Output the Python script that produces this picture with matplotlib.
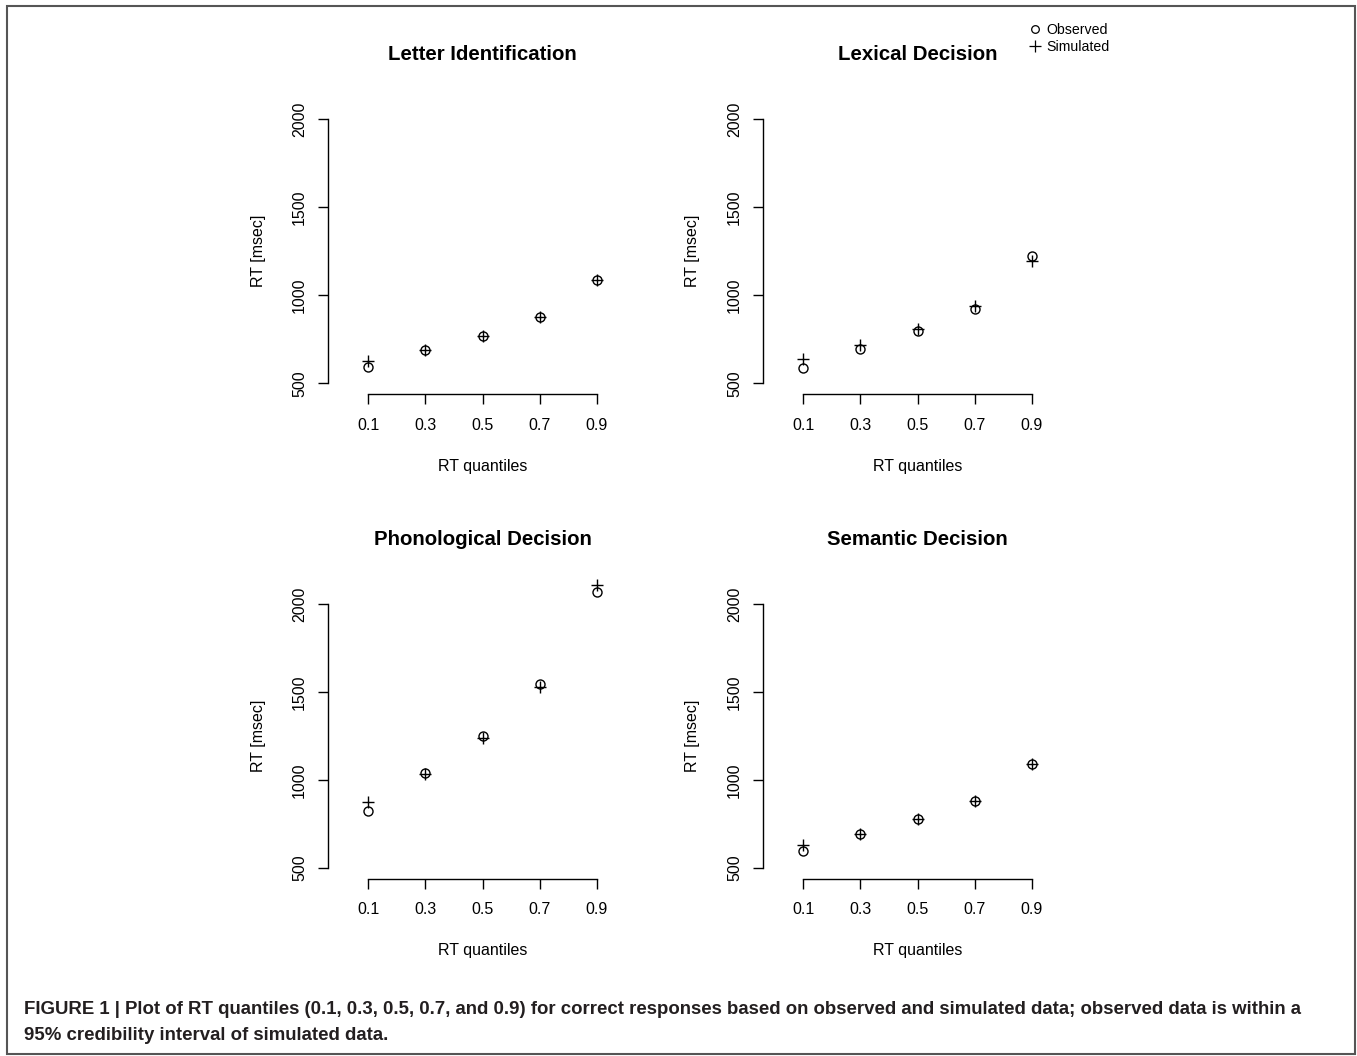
import matplotlib
matplotlib.use("Agg")
import matplotlib.pyplot as plt
from matplotlib.lines import Line2D
from matplotlib.patches import Rectangle

plt.rcParams['font.family'] = ['Liberation Sans', 'DejaVu Sans']

quantiles = [0.1, 0.3, 0.5, 0.7, 0.9]
tick_labels_x = ["0.1", "0.3", "0.5", "0.7", "0.9"]
yticks = [500, 1000, 1500, 2000]

titles = ["Letter Identification", "Lexical Decision",
          "Phonological Decision", "Semantic Decision"]

observed_letter = [591, 690, 769, 875, 1087]
simulated_letter = [627, 691, 769, 875, 1088]
observed_lexical = [589, 697, 795, 924, 1221]
simulated_lexical = [640, 716, 808, 937, 1195]
observed_phono = [825, 1038, 1252, 1543, 2068]
simulated_phono = [873, 1036, 1238, 1526, 2108]
observed_sem = [597, 693, 776, 879, 1092]
simulated_sem = [631, 693, 776, 880, 1092]

observed = [observed_letter, observed_lexical, observed_phono, observed_sem]
simulated = [simulated_letter, simulated_lexical, simulated_phono, simulated_sem]

W, H = 1357, 1056
fig = plt.figure(figsize=(W / 100, H / 100), dpi=100)

# axes placement (pixels: left, top-of-plot-region)
lefts = [328, 763, 328, 763]
tops = [108.7, 108.7, 593.4, 593.4]
aw, ah = 309, 285.2

fs_tick = 11.5
for i in range(4):
    l = lefts[i] / W
    b = 1 - (tops[i] + ah) / H
    ax = fig.add_axes([l, b, aw / W, ah / H])
    ax.plot(quantiles, observed[i], linestyle='none', marker='o', ms=6.5,
            mfc='none', mec='black', mew=1.0, clip_on=False)
    ax.plot(quantiles, simulated[i], linestyle='none', marker='+', ms=9,
            mec='black', mew=1.0, clip_on=False)
    ax.set_xlim(-0.04, 1.04)
    ax.set_ylim(440, 2060)
    for s in ['top', 'right']:
        ax.spines[s].set_visible(False)
    ax.spines['left'].set_bounds(500, 2000)
    ax.spines['bottom'].set_bounds(0.1, 0.9)
    ax.spines['left'].set_linewidth(1.0)
    ax.spines['bottom'].set_linewidth(1.0)
    ax.set_xticks(quantiles)
    ax.set_xticklabels(tick_labels_x)
    ax.set_yticks(yticks)
    ax.set_yticklabels([str(v) for v in yticks], rotation=90, va='center')
    ax.tick_params(direction='out', length=7, width=1.0, labelsize=fs_tick,
                   pad=8, colors='black')
    ax.tick_params(axis='x', pad=10)
    ax.set_xlabel("RT quantiles", fontsize=fs_tick)
    ax.xaxis.label.set_va('center')
    ax.xaxis.set_label_coords(0.5, -(466 - 393.9) / ah)
    ax.set_ylabel("RT [msec]", fontsize=fs_tick)
    ax.yaxis.label.set_va('center')
    ax.yaxis.set_label_coords(-(328 - 258) / aw, 0.5)
    ax.text(0.5, 1 + (108.7 - 55) / ah, titles[i], transform=ax.transAxes,
            ha='center', va='center', fontsize=14.7, fontweight='bold')

# legend
handles = [Line2D([], [], linestyle='none', marker='o', ms=5.5, mfc='none',
                  mec='black', mew=0.9),
           Line2D([], [], linestyle='none', marker='+', ms=8, mec='black',
                  mew=0.9)]
fig.legend(handles, ["Observed", "Simulated"], loc='upper left',
           bbox_to_anchor=(1029 / W, 1 - 23 / H), frameon=False,
           fontsize=10.2, handlelength=0.8, handletextpad=0.45,
           labelspacing=0.2, borderpad=0.0, borderaxespad=0.0)

# border
fig.add_artist(Rectangle((7 / W, 1 - 1054 / H), (1355 - 7) / W, (1054 - 6) / H,
                         transform=fig.transFigure, fill=False,
                         edgecolor='#555555', linewidth=1.5))

cap1 = ("FIGURE 1 | Plot of RT quantiles (0.1, 0.3, 0.5, 0.7, and 0.9) for correct "
        "responses based on observed and simulated data; observed data is within a")
cap2 = "95% credibility interval of simulated data."
for y, t in [(1008, cap1), (1034, cap2)]:
    fig.text(24 / W, 1 - (y + 1) / H, t, ha='left', va='center',
             family=['Liberation Sans', 'DejaVu Sans'],
             fontsize=13.4, fontweight='bold', color='#231f20')

fig.savefig("out.png", dpi=100)
